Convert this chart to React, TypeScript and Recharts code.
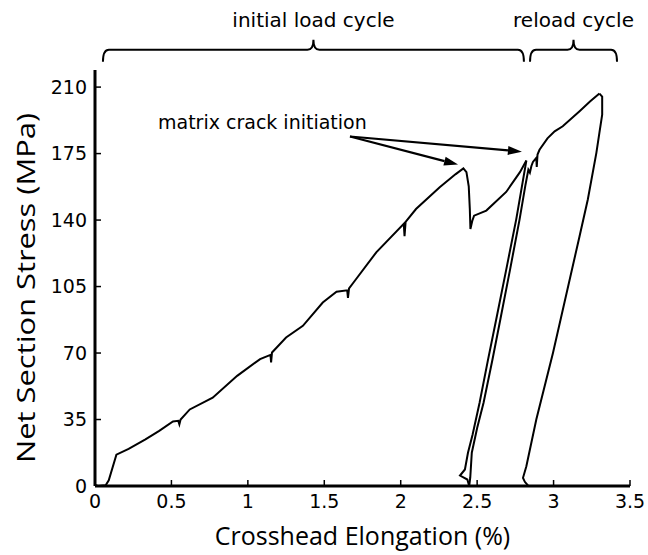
import { LineChart, Line, XAxis, YAxis, ReferenceLine, ReferenceDot } from "recharts";

// crosshead elongation (%) vs net section stress (MPa)
const elongationTicks = [0, 0.5, 1, 1.5, 2, 2.5, 3, 3.5];
const stressTicks = [0, 35, 70, 105, 140, 175, 210];

const initialLoad: [number, number][] = [
  [0.0, 0.6], [0.02, 0], [0.07, 0.4], [0.09, 3], [0.14, 16.5], [0.22, 19.5],
  [0.33, 24.5], [0.42, 29], [0.51, 34], [0.545, 34.3], [0.552, 32.5], [0.56, 35],
  [0.62, 40.3], [0.77, 46.5], [0.93, 58], [1.08, 66.8], [1.148, 69], [1.152, 65],
  [1.158, 70.3], [1.25, 78.2], [1.36, 84.3], [1.49, 96.6], [1.58, 102.3],
  [1.65, 103], [1.655, 99], [1.662, 104], [1.69, 107], [1.84, 123], [2.02, 138],
  [2.025, 131.5], [2.032, 139], [2.1, 145.8], [2.255, 157.3], [2.36, 164.2],
  [2.41, 167.2], [2.43, 165.2], [2.445, 157.8], [2.452, 146], [2.456, 135.3],
  [2.468, 139.5], [2.48, 142.3], [2.56, 145], [2.69, 154.8], [2.78, 165.2],
  [2.822, 171.3],
];

const firstUnload: [number, number][] = [
  [2.822, 171.3], [2.8, 161], [2.756, 140.5], [2.69, 113.8], [2.625, 87.8],
  [2.57, 66], [2.516, 43.8], [2.47, 27], [2.44, 17.5], [2.42, 8.7], [2.388, 5.5],
  [2.436, 3.4], [2.448, 0],
];

const reload: [number, number][] = [
  [2.448, 0], [2.455, 4.5], [2.465, 17.5], [2.5, 30.5], [2.542, 43.8], [2.6, 66.5],
  [2.652, 87.8], [2.715, 113.8], [2.778, 140.5], [2.815, 158], [2.835, 166.5],
  [2.845, 165], [2.855, 168.5], [2.865, 170.6], [2.887, 172.7], [2.89, 168],
  [2.895, 174.5], [2.908, 177], [2.96, 183], [3.007, 186.7], [3.06, 189.4],
  [3.17, 197.3], [3.24, 202.5], [3.3, 206.6],
];

const finalUnload: [number, number][] = [
  [3.3, 206.6], [3.318, 205], [3.318, 195.5], [3.3, 186], [3.28, 175.4],
  [3.224, 150.8], [3.17, 131.5], [2.996, 70], [2.887, 35], [2.822, 10.4],
  [2.8, 4.3], [2.812, 2.2], [2.835, 0],
];

const braces = [
  { text: "initial load cycle", from: 0.052, to: 2.806 },
  { text: "reload cycle", from: 2.846, to: 3.415 },
];

const crackText = "matrix crack initiation";
const crackArrowTips: [number, number][] = [
  [2.375, 169.2],
  [2.793, 176],
];

const toPoints = (pts: [number, number][]) => pts.map(([e, s]) => ({ e, s }));
const segments = [initialLoad, firstUnload, reload, finalUnload].map(toPoints);

const braceLevel = 229.7;
const crackLabelAt = { e: 1.095, s: 191.8 };
const arrowStart = { e: 1.668, s: 184 };

const tickFont = { fontSize: 19, fontFamily: "DejaVu Sans", fill: "#000" };
const titleFont = "Open Sans";

function Brace(props: any) {
  const { x1, x2, y1, text } = props;
  const mid = (x1 + x2) / 2;
  const y = y1;
  const d = `M${x1},${y + 12} Q${x1},${y} ${x1 + 6},${y} L${mid - 6},${y} Q${mid},${y} ${mid},${
    y - 10
  } Q${mid},${y} ${mid + 6},${y} L${x2 - 6},${y} Q${x2},${y} ${x2},${y + 12}`;
  return (
    <g>
      <path d={d} fill="none" stroke="#000" strokeWidth={2} />
      <text x={mid} y={y - 23} textAnchor="middle" fontSize={20} fontFamily="DejaVu Sans" fill="#000">
        {text}
      </text>
    </g>
  );
}

function Arrow(props: any) {
  const { x1, y1, x2, y2 } = props;
  const a = Math.atan2(y2 - y1, x2 - x1);
  const len = 14;
  const half = 4.5;
  const bx = x2 - len * Math.cos(a);
  const by = y2 - len * Math.sin(a);
  const pts = `${x2},${y2} ${bx - half * Math.sin(a)},${by + half * Math.cos(a)} ${
    bx + half * Math.sin(a)
  },${by - half * Math.cos(a)}`;
  return (
    <g>
      <line x1={x1} y1={y1} x2={bx} y2={by} stroke="#000" strokeWidth={2.2} />
      <polygon points={pts} fill="#000" />
    </g>
  );
}

export default function App() {
  return (
    <div style={{ position: "absolute", left: 0, top: 0, background: "#fff" }}>
      <LineChart width={648} height={555} margin={{ top: 70, right: 18, bottom: 0, left: 0 }}>
        <XAxis
          dataKey="e"
          type="number"
          domain={[0, 3.5]}
          ticks={elongationTicks}
          allowDataOverflow
          height={69}
          tickSize={-6}
          tickMargin={15}
          axisLine={{ stroke: "#000", strokeWidth: 3 }}
          tickLine={{ stroke: "#000", strokeWidth: 1.5 }}
          tick={tickFont}
          label={{
            value: "Crosshead Elongation (%)",
            position: "insideBottom",
            offset: 10,
            fontSize: 25,
            fontFamily: titleFont,
            fill: "#000",
          }}
        />
        <XAxis
          xAxisId="top"
          orientation="top"
          dataKey="e"
          type="number"
          domain={[0, 3.5]}
          ticks={elongationTicks}
          allowDataOverflow
          height={0}
          tickSize={-6}
          axisLine={{ stroke: "#000", strokeWidth: 3 }}
          tickLine={{ stroke: "#000", strokeWidth: 1.5 }}
          tick={() => <g />}
        />
        <YAxis
          type="number"
          domain={[0, 219]}
          ticks={stressTicks}
          allowDataOverflow
          width={95}
          tickSize={-6}
          tickMargin={14}
          axisLine={{ stroke: "#000", strokeWidth: 3 }}
          tickLine={{ stroke: "#000", strokeWidth: 1.5 }}
          tick={tickFont}
          label={{
            content: ({ viewBox }: any) => {
              const cx = viewBox.x + 25;
              const cy = viewBox.y + viewBox.height / 2 + 10;
              return (
                <text
                  x={cx}
                  y={cy}
                  transform={`rotate(-90, ${cx}, ${cy})`}
                  textAnchor="middle"
                  dominantBaseline="central"
                  fontSize={25}
                  fontFamily={titleFont}
                  textLength={350}
                  lengthAdjust="spacingAndGlyphs"
                  fill="#000"
                >
                  Net Section Stress (MPa)
                </text>
              );
            },
          }}
        />
        <YAxis
          yAxisId="right"
          orientation="right"
          type="number"
          domain={[0, 219]}
          ticks={stressTicks}
          allowDataOverflow
          width={0}
          tickSize={-6}
          axisLine={{ stroke: "#000", strokeWidth: 3 }}
          tickLine={{ stroke: "#000", strokeWidth: 1.5 }}
          tick={() => <g />}
        />
        {segments.map((seg, i) => (
          <Line
            key={i}
            data={seg}
            dataKey="s"
            type="linear"
            stroke="#000"
            strokeWidth={2}
            dot={false}
            activeDot={false}
            isAnimationActive={false}
          />
        ))}
        {braces.map((b) => (
          <ReferenceLine
            key={b.text}
            segment={[
              { x: b.from, y: braceLevel },
              { x: b.to, y: braceLevel },
            ]}
            ifOverflow="visible"
            shape={(p: any) => <Brace {...p} text={b.text} />}
          />
        ))}
        {crackArrowTips.map(([e, s], i) => (
          <ReferenceLine
            key={i}
            segment={[
              { x: arrowStart.e, y: arrowStart.s },
              { x: e, y: s },
            ]}
            ifOverflow="visible"
            shape={(p: any) => <Arrow {...p} />}
          />
        ))}
        <ReferenceDot
          x={crackLabelAt.e}
          y={crackLabelAt.s}
          r={0}
          ifOverflow="visible"
          shape={(p: any) => (
            <text
              x={p.cx}
              y={p.cy}
              textAnchor="middle"
              dominantBaseline="central"
              fontSize={19}
              fontFamily="DejaVu Sans"
              fill="#000"
            >
              {crackText}
            </text>
          )}
        />
      </LineChart>
    </div>
  );
}
